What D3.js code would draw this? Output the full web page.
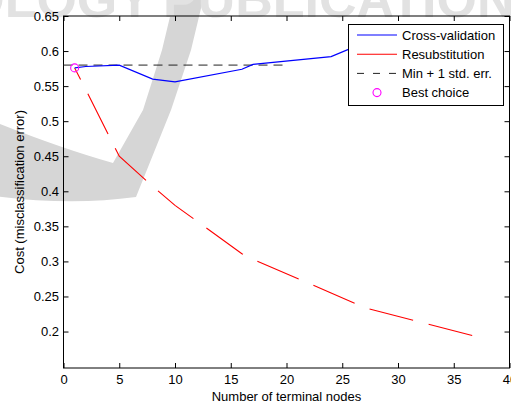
<!DOCTYPE html>
<html>

<head>
	<meta http-equiv="Content-Type" content="text/html;charset=utf-8">
	<title>Cost vs terminal nodes</title>
	<script type="text/javascript" src="https://d3js.org/d3.v7.min.js"></script>

	<style type="text/css">
		body {
			margin: 0;
			background-color: white;
		}

		svg text {
			font-family: "Liberation Sans", Arial, sans-serif;
			font-size: 13px;
			fill: black;
		}

		.axis .domain {
			display: none;
		}

		.axis .tick line {
			stroke: black;
			stroke-width: 1;
		}

		.axis .tick text {
			font-family: "Liberation Sans", Arial, sans-serif;
			font-size: 13px;
		}

		.watermark {
			fill: #d6d6d6;
		}

		text.watermark {
			font-size: 52px;
			font-weight: bold;
			fill: #e2e2e2;
		}
	</style>
</head>

<body>

	<div id="chart"></div>

	<script type="text/javascript">
		//data
		var nodes = [1, 2, 5, 8, 10, 16, 17, 24, 27, 37];
		var cvCost = [0.576, 0.578, 0.580, 0.560, 0.556, 0.574, 0.581, 0.592, 0.612, 0.620];
		var resubCost = [0.576, 0.545, 0.450, 0.407, 0.380, 0.311, 0.303, 0.255, 0.234, 0.193];
		var minPlusSe = 0.58;
		var minPlusSeRange = [0, 20];
		var bestNode = 1;
		var bestCost = 0.576;

		var xTicks = [0, 5, 10, 15, 20, 25, 30, 35, 40];
		var yTicks = [0.2, 0.25, 0.3, 0.35, 0.4, 0.45, 0.5, 0.55, 0.6, 0.65];
		var legendLabels = ["Cross-validation", "Resubstitution", "Min + 1 std. err.", "Best choice"];

		var W = 511, H = 401;
		// plot box (window.top is read-only, so no bare "top")
		var pL = 63.5, pR = 509.5, pT = 16, pB = 368;

		var svg = d3.select("#chart")
			.append("svg")
			.attr("width", W)
			.attr("height", H);

		// publisher watermark behind everything
		svg.append("path")
			.attr("class", "watermark")
			.attr("d", "M-5,122 Q60,148 113,163 L143,110 L162,50 L174,0 L203,0 L191,50 L171,110 L136,197 Q70,206 -5,196 Z");
		svg.append("text")
			.attr("class", "watermark")
			.attr("x", 152)
			.attr("y", 17)
			.attr("text-anchor", "end")
			.text("TECHNOLOGY");
		svg.append("text")
			.attr("class", "watermark")
			.attr("x", 163)
			.attr("y", 17)
			.text("PUBLICATIONS");

		//scales
		var x = d3.scaleLinear().domain([0, 40]).range([pL, pR]);
		var y = d3.scaleLinear().domain([0.148, 0.65]).range([pB, pT]);

		// axes, ticks pointing inwards like matlab
		svg.append("g")
			.attr("class", "axis")
			.attr("transform", "translate(0," + pB + ")")
			.call(d3.axisBottom(x).tickValues(xTicks).tickSizeInner(-5).tickSizeOuter(0).tickPadding(7));
		svg.append("g")
			.attr("class", "axis")
			.attr("transform", "translate(0," + pT + ")")
			.call(d3.axisTop(x).tickValues(xTicks).tickFormat("").tickSizeInner(-5).tickSizeOuter(0));
		svg.append("g")
			.attr("class", "axis")
			.attr("transform", "translate(" + pL + ",0)")
			.call(d3.axisLeft(y).tickValues(yTicks).tickFormat(d3.format("")).tickSizeInner(-5).tickSizeOuter(0).tickPadding(4.5));
		svg.append("g")
			.attr("class", "axis")
			.attr("transform", "translate(" + pR + ",0)")
			.call(d3.axisRight(y).tickValues(yTicks).tickFormat("").tickSizeInner(-5).tickSizeOuter(0));

		svg.append("rect")
			.attr("x", pL)
			.attr("y", pT)
			.attr("width", pR - pL)
			.attr("height", pB - pT)
			.attr("fill", "none")
			.attr("stroke", "black")
			.attr("stroke-width", 1);

		// axis labels
		svg.append("text")
			.attr("x", (pL + pR) / 2)
			.attr("y", 400.5)
			.attr("text-anchor", "middle")
			.text("Number of terminal nodes");
		svg.append("text")
			.attr("transform", "translate(23.5," + ((pT + pB) / 2) + ") rotate(-90)")
			.attr("text-anchor", "middle")
			.text("Cost (misclassification error)");

		var line = d3.line()
			.x(function(d) { return x(d[0]); })
			.y(function(d) { return y(d[1]); });

		var plot = svg.append("g");

		plot.append("path")
			.attr("d", line([[minPlusSeRange[0], minPlusSe], [minPlusSeRange[1], minPlusSe]]))
			.attr("fill", "none")
			.attr("stroke", "#222")
			.attr("stroke-width", 1)
			.attr("stroke-dasharray", "9,6");

		plot.append("path")
			.attr("d", line(nodes.map(function(n, i) { return [n, resubCost[i]]; })))
			.attr("fill", "none")
			.attr("stroke", "#ff0000")
			.attr("stroke-width", 1.1)
			.attr("stroke-dasharray", "45,16")
			.attr("stroke-dashoffset", 32);

		plot.append("path")
			.attr("d", line(nodes.map(function(n, i) { return [n, cvCost[i]]; })))
			.attr("fill", "none")
			.attr("stroke", "#0000ff")
			.attr("stroke-width", 1.2);

		plot.append("circle")
			.attr("cx", x(bestNode))
			.attr("cy", y(bestCost))
			.attr("r", 4)
			.attr("fill", "none")
			.attr("stroke", "#ff00ff")
			.attr("stroke-width", 1.1);

		// legend
		var lg = svg.append("g");
		lg.append("rect")
			.attr("x", 348.5)
			.attr("y", 24.5)
			.attr("width", 155)
			.attr("height", 81)
			.attr("fill", "white")
			.attr("stroke", "black")
			.attr("stroke-width", 1);

		var rows = lg.selectAll("g.row")
			.data(legendLabels)
			.enter().append("g")
			.attr("class", "row")
			.attr("transform", function(d, i) { return "translate(0," + (39.5 + i * 19.2) + ")"; });

		rows.append("text")
			.attr("x", 402)
			.attr("y", 0)
			.text(function(d) { return d; });

		rows.each(function(d, i) {
			var g = d3.select(this);
			if (i == 3) {
				g.append("circle")
					.attr("cx", 377)
					.attr("cy", -4.5)
					.attr("r", 4)
					.attr("fill", "none")
					.attr("stroke", "#ff00ff")
					.attr("stroke-width", 1.1);
				return;
			}
			g.append("line")
				.attr("x1", 357)
				.attr("x2", 397)
				.attr("y1", -4.5)
				.attr("y2", -4.5)
				.attr("stroke", ["#0000ff", "#ff0000", "#222"][i])
				.attr("stroke-width", i == 2 ? 1 : 1.1)
				.attr("stroke-dasharray", i == 2 ? "7,9" : null);
		});
	</script>
</body>

</html>
